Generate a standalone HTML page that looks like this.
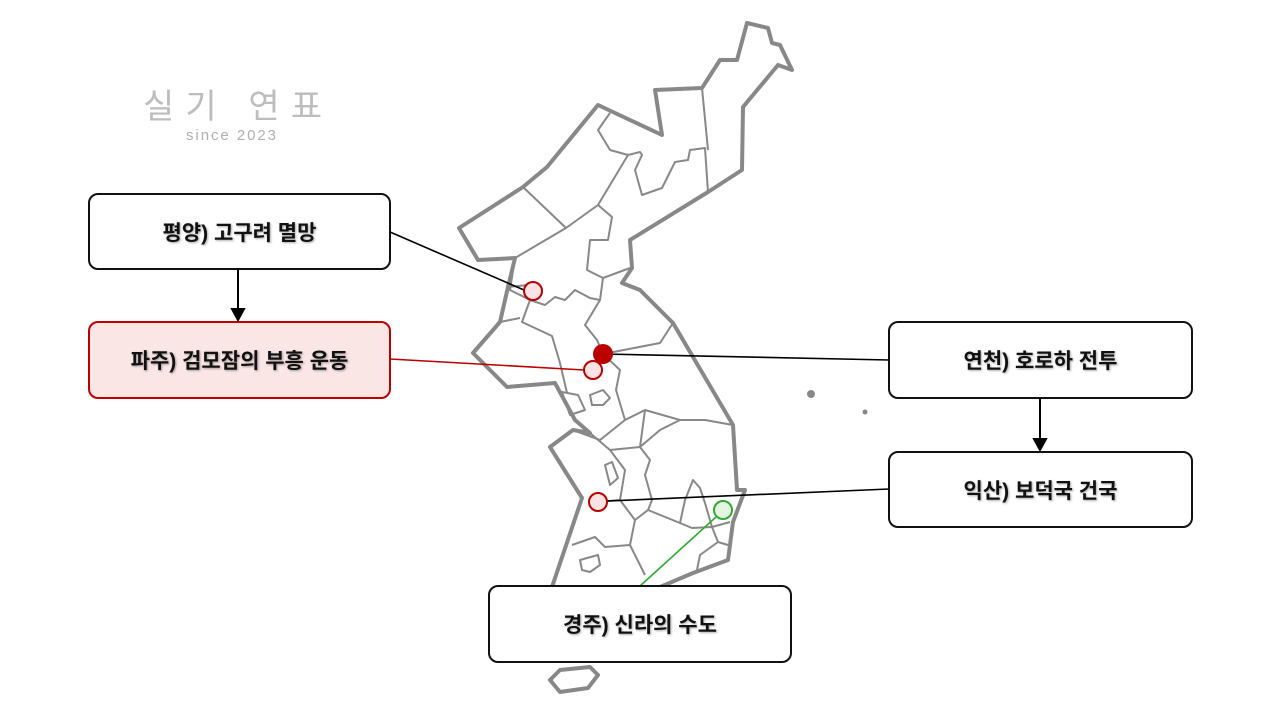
<!DOCTYPE html>
<html><head><meta charset="utf-8"><style>
body{margin:0;width:1280px;height:720px;background:#fff;position:relative;overflow:hidden;font-family:"Liberation Sans","Noto Sans CJK KR",sans-serif}
.b{position:absolute;box-sizing:border-box;border:2.5px solid #111;border-radius:10px;background:#fff;display:flex;align-items:center;justify-content:center;font-weight:bold;font-size:21px;color:#111;text-shadow:1px 1px 2px rgba(0,0,0,.35)}
</style></head><body>
<svg width="1280" height="720" style="position:absolute;left:0;top:0">
<g fill="none" stroke="#888" stroke-width="4" stroke-linejoin="round">
<path d="M459,228 L523,187 L547,167 L598,105 L662,135 L655,90 L702,88 L720,60 L737,60 L747,23 L768,28 L772,43 L780,45 L792,70 L778,65 L743,107 L742,170 L708,192 L630,240 L632,268 L622,283 L640,290 L673,323 L733,425 L737,490 L745,490 L733,522 L728,560 L693,573 L660,587 L552,587 L582,498 L550,447 L573,430 L590,433 L575,420 L555,383 L507,387 L473,353 L500,322 L508,287 L515,258 L478,260 Z"/>
<path d="M550,680 L560,670 L590,667 L598,675 L588,688 L560,692 Z"/>
</g>
<g fill="none" stroke="#888" stroke-width="2" stroke-linejoin="round">
<path d="M523,187 L566,228 L515,258"/>
<path d="M610,113 L598,130 L610,150 L628,155 L640,152 L642,155 L635,170 L642,195 L662,188 L675,162 L688,160 L690,150 L705,148 L708,192"/>
<path d="M702,88 L708,150"/>
<path d="M628,155 L598,205 L566,228"/>
<path d="M598,205 L612,217 L608,240 L590,240 L587,270 L603,278 L630,268"/>
<path d="M603,278 L600,300 L585,325 L597,340 L603,354 L660,343 L673,323"/>
<path d="M508,287 L528,285 L530,300 L545,305 L555,297 L565,300 L575,290 L590,298 L600,300"/>
<path d="M515,258 L510,290 L530,300 L522,322 L552,336 L560,363 L567,393"/>
<path d="M500,322 L520,318"/>
<path d="M603,354 L620,370 L616,390 L625,420 L645,410 L680,420 L705,420 L733,425"/>
<path d="M573,430 L600,440 L625,420"/>
<path d="M590,433 L610,450 L625,470 L620,500 L598,502"/>
<path d="M610,450 L640,447 L660,430 L680,420"/>
<path d="M645,410 L640,447 L650,460 L645,475 L652,500 L648,510 L635,520 L620,500"/>
<path d="M648,510 L680,523 L692,528 L712,527 L730,522"/>
<path d="M680,523 L685,500 L693,480 L700,488 L705,503 L712,527"/>
<path d="M635,520 L630,545 L605,547 L595,537 L572,545"/>
<path d="M630,545 L645,575"/>
<path d="M712,527 L718,542 L728,545 M718,542 L700,555 L697,570"/>
<path d="M580,560 L598,555 L600,565 L590,572 L582,570 Z"/>
<path d="M605,465 L612,462 L618,478 L610,485 Z"/>
<path d="M590,395 L603,390 L610,398 L603,405 L592,405 Z"/>
<path d="M562,392 L578,395 L585,410 L570,415 Z"/>
</g>
<circle cx="811" cy="394" r="4" fill="#888"/><circle cx="865" cy="412" r="2.5" fill="#888"/>
<line x1="390" y1="232" x2="524" y2="290" stroke="#000" stroke-width="1.6"/>
<line x1="390" y1="359" x2="584" y2="370" stroke="#b00" stroke-width="1.6"/>
<line x1="603" y1="354" x2="889" y2="360" stroke="#000" stroke-width="1.6"/>
<line x1="607" y1="501" x2="889" y2="489" stroke="#000" stroke-width="1.6"/>
<line x1="640" y1="586" x2="716" y2="517" stroke="#3a3" stroke-width="1.6"/>
<circle cx="533" cy="291" r="9" fill="#fce4e4" stroke="#b00" stroke-width="2"/>
<circle cx="593" cy="370" r="9" fill="#fce4e4" stroke="#b00" stroke-width="2"/>
<circle cx="603" cy="354" r="10" fill="#b00"/>
<circle cx="598" cy="502" r="9" fill="#fce4e4" stroke="#b00" stroke-width="2"/>
<circle cx="723" cy="510" r="9" fill="#e6f4e2" stroke="#3a3" stroke-width="2"/>
<g stroke="#000" stroke-width="2" fill="#000">
<line x1="238" y1="269" x2="238" y2="312"/><path d="M232,309 L238,320 L244,309 Z"/>
<line x1="1040" y1="398" x2="1040" y2="442"/><path d="M1034,439 L1040,450 L1046,439 Z"/>
</g>
<text x="143" y="118" textLength="179" lengthAdjust="spacing" font-size="34" fill="#bdbdbd" font-family="Liberation Sans, Noto Sans CJK KR, sans-serif">실기 연표</text>
<text x="186" y="140" textLength="90" lengthAdjust="spacing" font-size="15" fill="#b0b0b0" font-family="Liberation Sans, sans-serif">since 2023</text>
</svg>
<div class="b" style="left:88px;top:193px;width:303px;height:77px">평양) 고구려 멸망</div>
<div class="b" style="left:88px;top:321px;width:303px;height:78px;border-color:#b00;background:#fbe6e6">파주) 검모잠의 부흥 운동</div>
<div class="b" style="left:888px;top:321px;width:305px;height:78px">연천) 호로하 전투</div>
<div class="b" style="left:888px;top:451px;width:305px;height:77px">익산) 보덕국 건국</div>
<div class="b" style="left:488px;top:585px;width:304px;height:78px">경주) 신라의 수도</div>
</body></html>
